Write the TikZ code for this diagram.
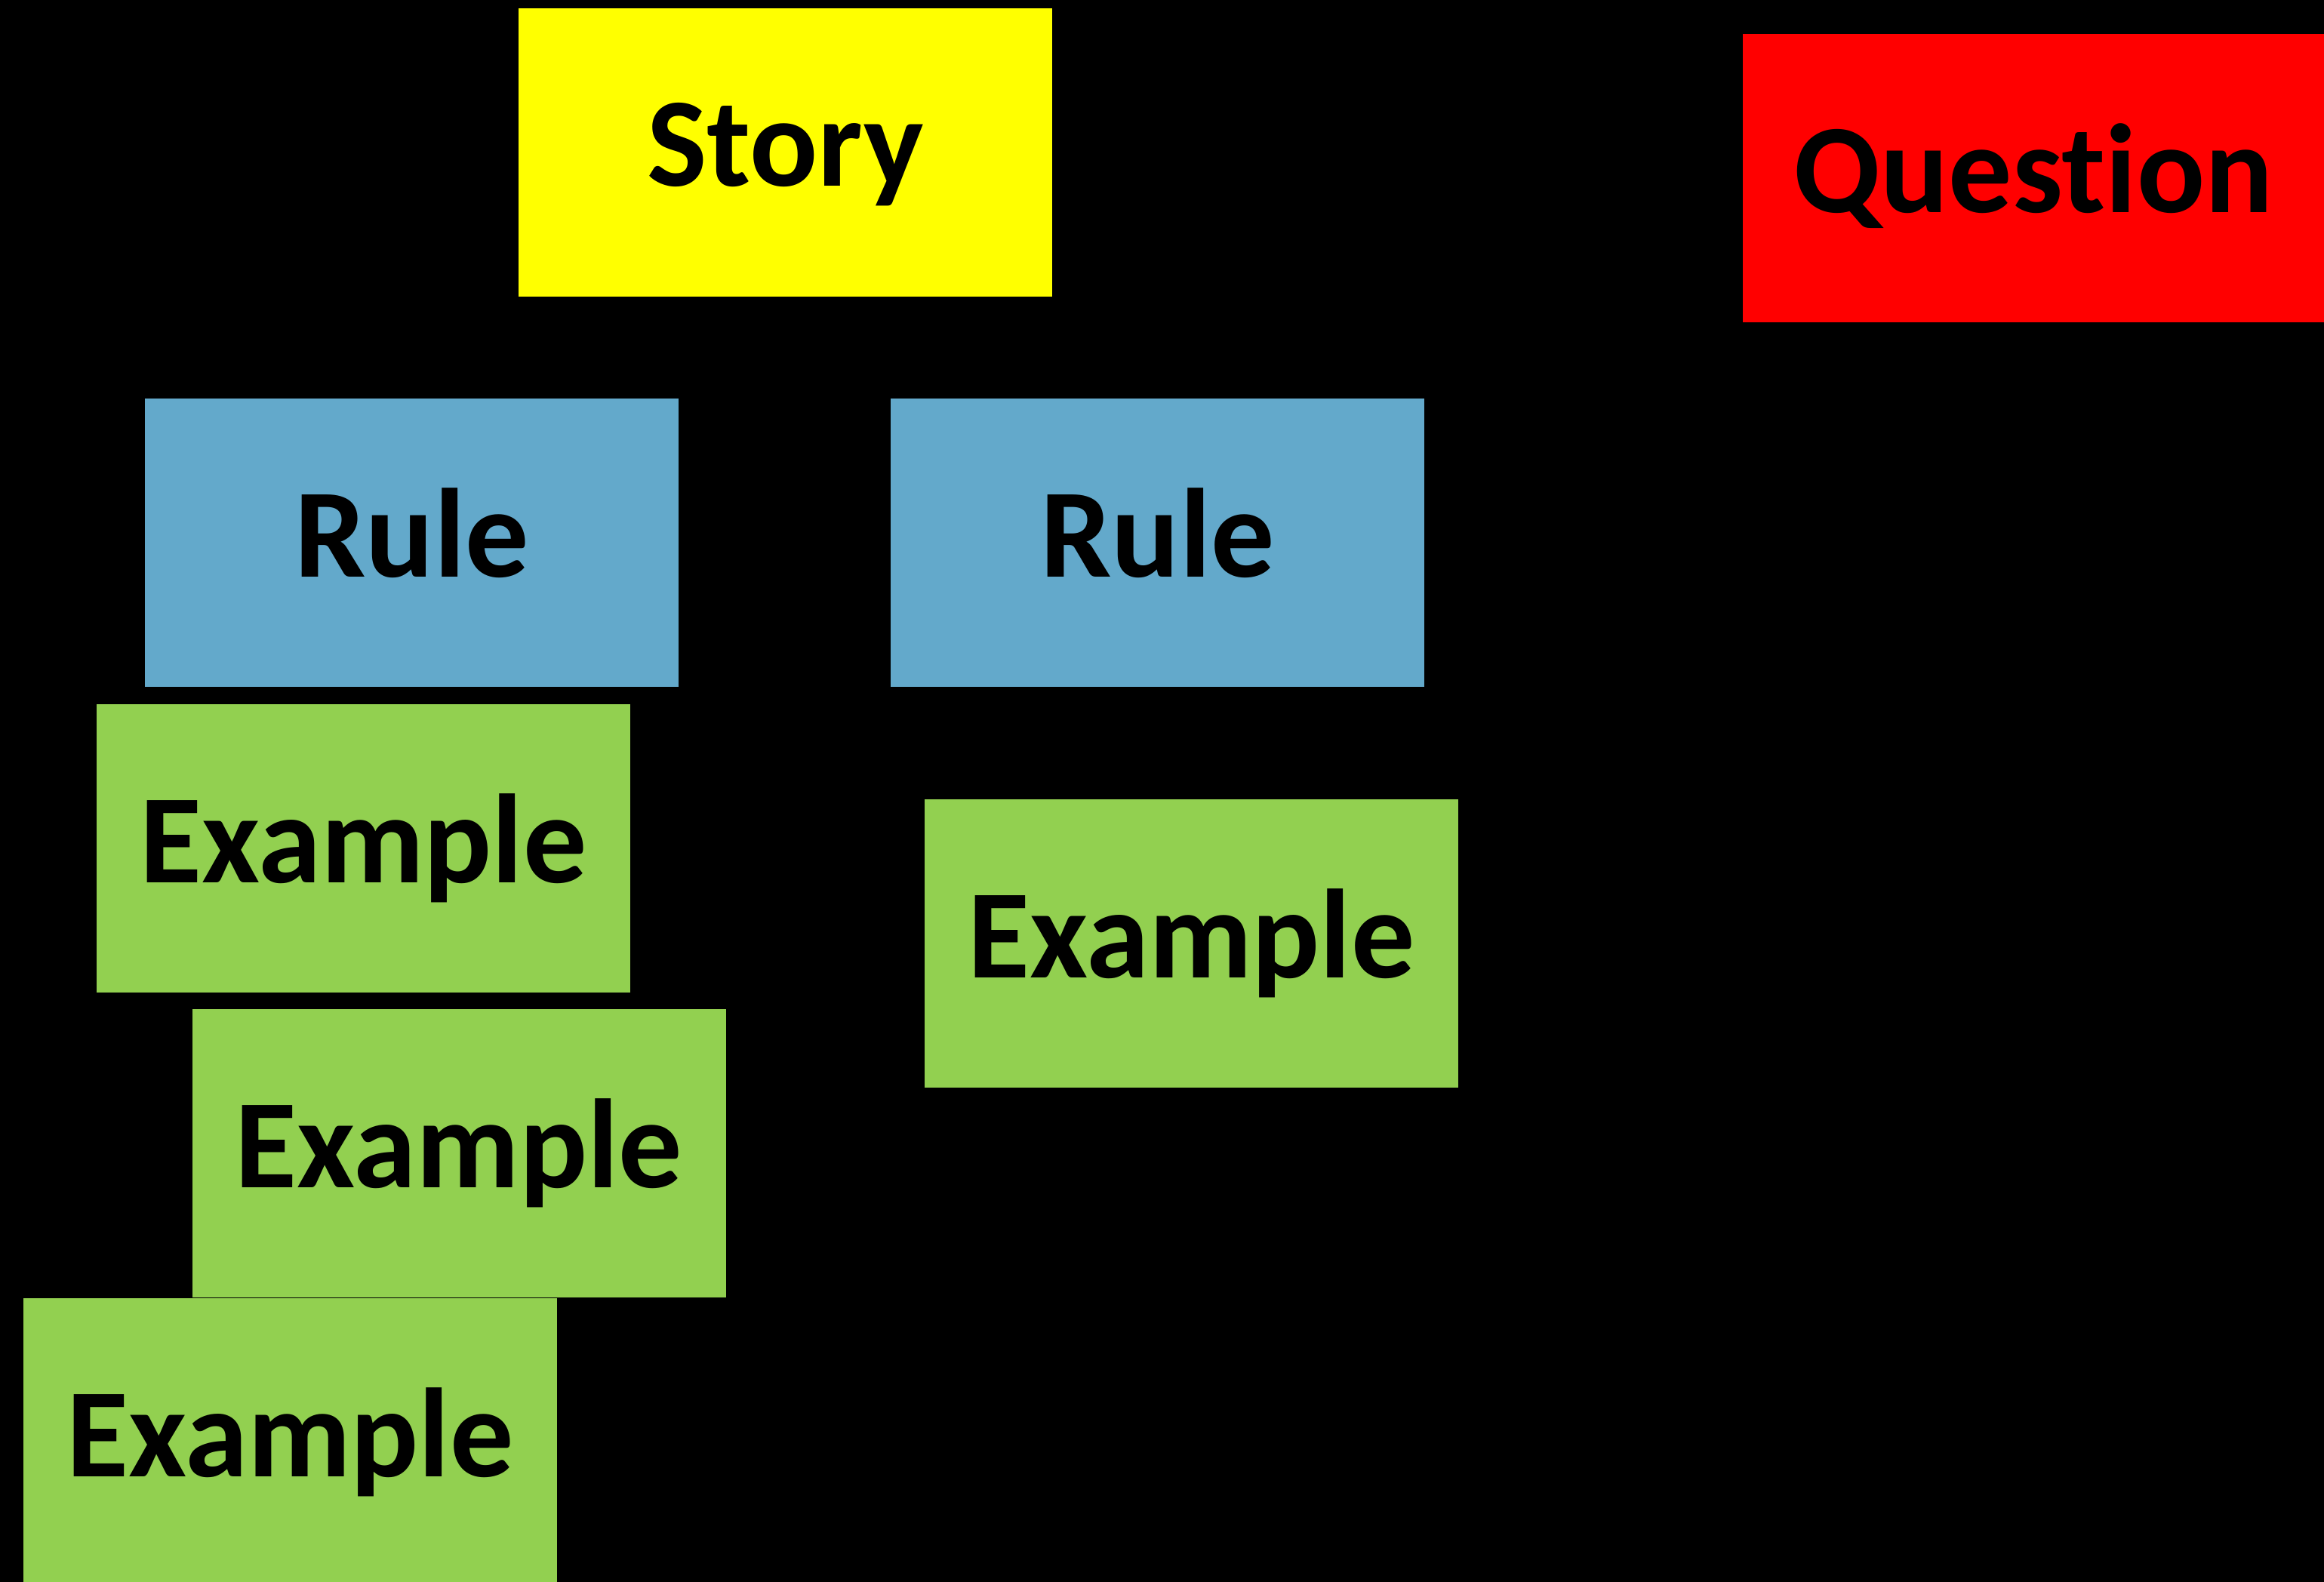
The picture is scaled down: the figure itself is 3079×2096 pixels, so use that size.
\documentclass[tikz,border=0pt]{standalone}
\usepackage{fontspec}
\setmainfont{Carlito}[Ligatures={NoCommon,NoContextual}]
\definecolor{storyyellow}{RGB}{255,255,0}
\definecolor{questionred}{RGB}{255,0,0}
\definecolor{ruleblue}{RGB}{99,169,203}
\definecolor{examplegreen}{RGB}{146,208,80}
\begin{document}
\begin{tikzpicture}[x=1pt,y=-1pt,
  card/.style={rectangle, draw=none, inner sep=0pt, minimum width=707pt, minimum height=382pt,
    font=\fontsize{168}{200}\selectfont\bfseries, text=black, text height=128pt, text depth=38pt},
  storycard/.style={card, fill=storyyellow},
  questioncard/.style={card, fill=questionred, minimum width=770pt},
  rulecard/.style={card, fill=ruleblue},
  examplecard/.style={card, fill=examplegreen}]
\clip (0,0) rectangle (3079,2096);
\fill[black] (0,0) rectangle (3079,2096);
\useasboundingbox (0,0) rectangle (3079,2096);
\node[storycard] (story) at (1040.5,201.5) {Story};
\node[questioncard] (question) at (2694,236) {Question};
\node[rulecard] (rule1) at (545.5,719) {Rule};
\node[rulecard] (rule2) at (1533.5,719) {Rule};
\node[examplecard] (ex1) at (481.5,1124) {Example};
\node[examplecard] (ex2) at (1578.5,1250) {Example};
\node[examplecard] (ex3) at (608,1528) {Example};
\node[examplecard] (ex4) at (384.5,1911) {Example};
\end{tikzpicture}
\end{document}
